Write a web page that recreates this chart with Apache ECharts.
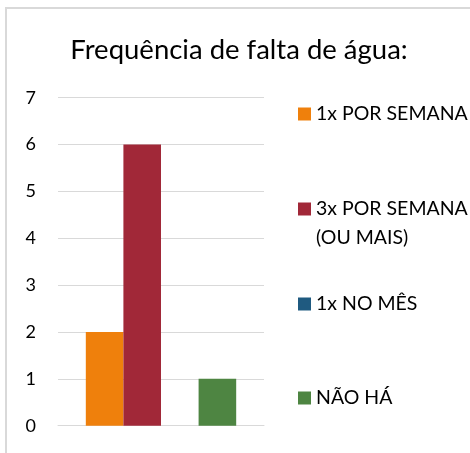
<!DOCTYPE html>
<html>
<head>
<meta charset="utf-8">
<script src="https://cdn.jsdelivr.net/npm/echarts@6/dist/echarts.min.js"></script>
<style>
  html, body { margin: 0; padding: 0; background: #fff; }
  #chart { width: 470px; height: 453px; }
</style>
</head>
<body>
<div id="chart"></div>
<script>
// dados
var categorias = [""];
var series = ["1x POR SEMANA", "3x POR SEMANA (OU MAIS)", "1x NO MÊS", "NÃO HÁ"];
var valores = [[2], [6], [0], [1]];
var cores = ["#EF800C", "#A12838", "#1F5A80", "#4E8542"];
var yTicks = [0, 7, 1]; // min, max, intervalo

var FONT = "Lato";
var LH = 29; // altura de linha da legenda
var legendaY = [114, 209, 304, 398]; // centro do ícone de cada item

var chart = echarts.init(document.getElementById("chart"), null, { renderer: "canvas" });

var legendas = series.map(function (nome, i) {
  var multi = nome.indexOf(" (") > 0;
  return {
    data: [nome],
    left: 298,
    // item de duas linhas: linha vazia em cima para a 1ª linha ficar alinhada ao ícone
    top: multi ? legendaY[i] - LH * 1.5 : legendaY[i] - LH / 2,
    padding: 0,
    orient: "vertical",
    itemWidth: 13, itemHeight: 13, itemGap: 0,
    icon: "rect",
    selectedMode: false,
    formatter: function (n) { return n.indexOf(" (") > 0 ? " \n" + n.replace(" (", "\n(") : n; },
    textStyle: { fontFamily: FONT, fontSize: 19.5, color: "#000", lineHeight: LH }
  };
});

chart.setOption({
  animation: false,
  textStyle: { fontFamily: FONT },
  title: {
    text: "Frequência de falta de água:",
    left: 239, top: 50, textAlign: "center", textVerticalAlign: "middle", padding: 0,
    textStyle: { fontFamily: FONT, fontSize: 27.5, fontWeight: "normal", color: "#000" }
  },
  graphic: [{
    type: "rect", shape: { x: 6, y: 8, width: 500, height: 500 },
    style: { fill: "none", stroke: "#D9D9D9", lineWidth: 2 }, silent: true
  }],
  legend: legendas,
  grid: { left: 58, right: 206, top: 97.7, bottom: 27.3, containLabel: false },
  xAxis: {
    type: "category", data: categorias,
    axisLine: { lineStyle: { color: "#D9D9D9", width: 1 } },
    axisTick: { show: false }, axisLabel: { show: false }
  },
  yAxis: {
    type: "value", min: yTicks[0], max: yTicks[1], interval: yTicks[2],
    axisLine: { show: false }, axisTick: { show: false },
    axisLabel: { fontFamily: FONT, fontSize: 18, color: "#000", margin: 22 },
    splitLine: { lineStyle: { color: "#D9D9D9", width: 1 } }
  },
  series: series.map(function (nome, i) {
    return {
      name: nome, type: "bar", data: valores[i],
      barGap: "0%", barCategoryGap: "27%",
      itemStyle: { color: cores[i] }
    };
  })
});
</script>
</body>
</html>
